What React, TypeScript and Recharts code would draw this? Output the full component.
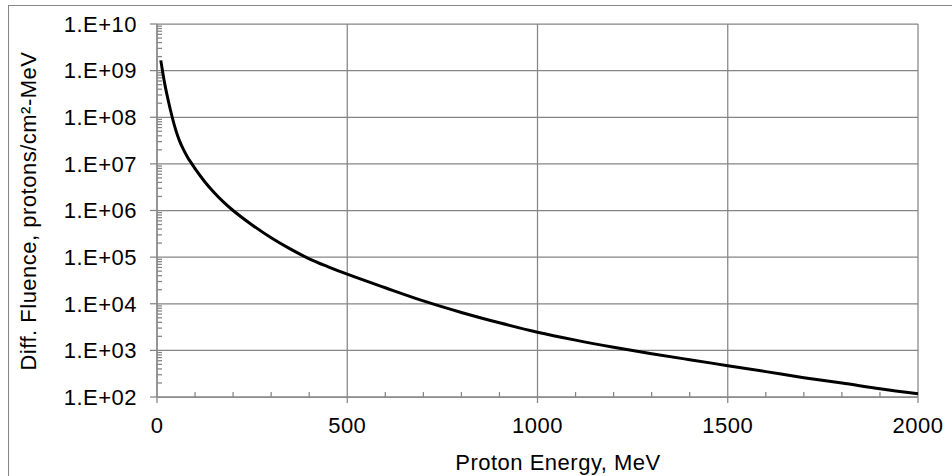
import React from "react";
import {
  LineChart,
  Line,
  XAxis,
  YAxis,
  CartesianGrid,
  Label,
  ReferenceLine,
} from "recharts";

// Proton energy (MeV) and differential fluence
const energy = [
  10, 20, 30, 40, 50, 60, 70, 80, 90, 100, 125, 150, 175, 200, 250, 300, 350,
  400, 450, 500, 600, 700, 800, 900, 1000, 1100, 1200, 1300, 1400, 1500, 1600,
  1700, 1800, 1900, 2000,
];
const fluence = [
  1.66e9, 5.4e8, 2.2e8, 1.0e8, 5.1e7, 3.0e7, 2.0e7, 1.41e7, 1.05e7, 7.9e6,
  4.2e6, 2.43e6, 1.51e6, 1.0e6, 4.9e5, 2.6e5, 1.5e5, 9.2e4, 6.2e4, 4.3e4,
  2.2e4, 1.15e4, 6.5e3, 3.9e3, 2.45e3, 1.66e3, 1.17e3, 8.5e2, 6.3e2, 4.7e2,
  3.5e2, 2.6e2, 2.0e2, 1.5e2, 1.17e2,
];

const xTicks = [0, 500, 1000, 1500, 2000];
const xMinorTicks = [
  100, 200, 300, 400, 600, 700, 800, 900, 1100, 1200, 1300, 1400, 1600, 1700,
  1800, 1900,
];
const yTicks = [1e2, 1e3, 1e4, 1e5, 1e6, 1e7, 1e8, 1e9, 1e10];
// log minor ticks: 2..9 in every decade
const yMinorTicks: number[] = [];
yTicks.slice(0, -1).forEach((d) => {
  for (let m = 2; m <= 9; m++) yMinorTicks.push(d * m);
});

const xTitle = "Proton Energy, MeV";
const yTitle = "Diff. Fluence, protons/cm²-MeV";

const data = energy.map((e, i) => ({ energy: e, fluence: fluence[i] }));

const GRAY = "#858585";
const FONT = "'Liberation Sans', Arial, sans-serif";
const MINOR = 5;
const textStyle = { fill: "#000", fontSize: 22, fontFamily: FONT, letterSpacing: 0.5 };

const fmtExp = (v: number) => {
  const p = Math.round(Math.log10(v));
  return `1.E+${String(p).padStart(2, "0")}`;
};

// short inward tick at the bottom of a vertical reference line
const xMinorShape = (p: any) => {
  const yb = Math.max(p.y1, p.y2);
  return <line x1={p.x1} x2={p.x1} y1={yb - MINOR} y2={yb} stroke={GRAY} strokeWidth={1.25} />;
};
// short inward tick at the left end of a horizontal reference line
const yMinorShape = (p: any) => {
  const xl = Math.min(p.x1, p.x2);
  return <line x1={xl} x2={xl + MINOR} y1={p.y1} y2={p.y1} stroke={GRAY} strokeWidth={1.25} />;
};

export default function App() {
  return (
    <div
      style={{
        position: "fixed",
        left: 0,
        top: 0,
        width: 952,
        height: 476,
        overflow: "hidden",
        background: "#fff",
      }}
    >
      {/* chart area frame, runs off the right/bottom edge */}
      <div
        style={{
          position: "absolute",
          left: 8,
          top: 5,
          width: 980,
          height: 500,
          border: `1px solid ${GRAY}`,
        }}
      />
      <div style={{ position: "absolute", left: 0, top: 0 }}>
        <LineChart
          width={952}
          height={476}
          data={data}
          margin={{ top: 24, right: 34, bottom: 78, left: 156 }}
        >
          <CartesianGrid stroke={GRAY} strokeWidth={1.25} />
          <XAxis
            dataKey="energy"
            type="number"
            domain={[0, 2000]}
            ticks={xTicks}
            interval={0}
            height={1}
            tickSize={6}
            tickMargin={14}
            stroke={GRAY}
            axisLine={{ stroke: GRAY, strokeWidth: 1.25 }}
            tickLine={{ stroke: GRAY, strokeWidth: 1.25 }}
            tick={textStyle}
          >
            <Label
              content={() => (
                <text x={558} y={470} textAnchor="middle" style={textStyle}>
                  {xTitle}
                </text>
              )}
            />
          </XAxis>
          <YAxis
            scale="log"
            type="number"
            domain={[1e2, 1e10]}
            ticks={yTicks}
            interval={0}
            width={1}
            tickSize={7}
            tickMargin={13}
            tickFormatter={fmtExp}
            stroke={GRAY}
            axisLine={{ stroke: GRAY, strokeWidth: 1.25 }}
            tickLine={{ stroke: GRAY, strokeWidth: 1.25 }}
            tick={textStyle}
            allowDataOverflow
          >
            <Label
              content={() => (
                <text
                  x={28}
                  y={211}
                  transform="rotate(-90, 28, 211)"
                  textAnchor="middle"
                  dominantBaseline="central"
                  style={textStyle}
                >
                  {yTitle}
                </text>
              )}
            />
          </YAxis>
          {xMinorTicks.map((v) => (
            <ReferenceLine key={`xm-${v}`} x={v} shape={xMinorShape} />
          ))}
          {yMinorTicks.map((v) => (
            <ReferenceLine key={`ym-${v}`} y={v} shape={yMinorShape} />
          ))}
          <Line
            type="monotone"
            dataKey="fluence"
            stroke="#000"
            strokeWidth={3}
            dot={false}
            activeDot={false}
            isAnimationActive={false}
          />
        </LineChart>
      </div>
    </div>
  );
}
